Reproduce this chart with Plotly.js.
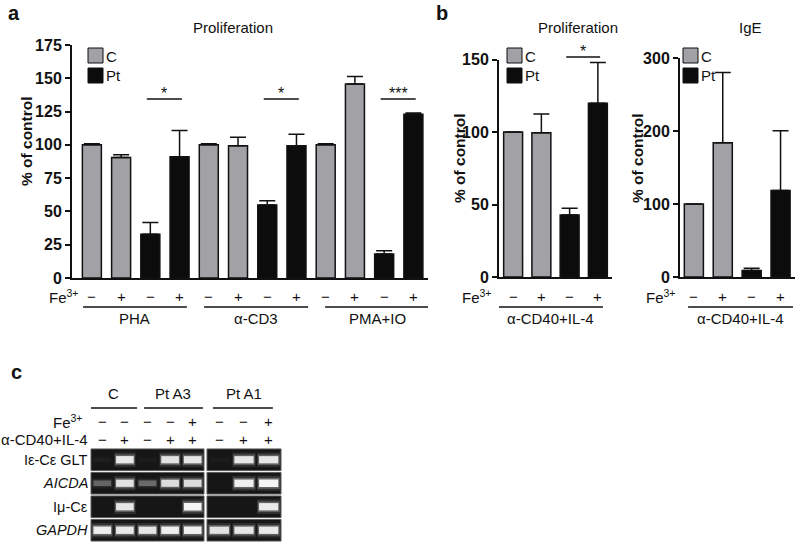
<!DOCTYPE html>
<html><head><meta charset="utf-8">
<script src="https://cdn.plot.ly/plotly-3.0.1.min.js"></script>
<style>html,body{margin:0;padding:0;background:#fff}#chart{width:800px;height:547px}</style>
</head><body><div id="chart"></div>
<script>
// ---------------- DATA ----------------
const seriesNames = ['C', 'Pt'];
const feSigns = ['\u2212', '+'];
const feLabel = 'Fe<sup>3+</sup>';
const yTitle = '% of control';
const panelTitles = ['Proliferation', 'Proliferation', 'IgE'];

// panel a : Proliferation (per stimulus: [Fe-, Fe+])
const groupsA = ['PHA', '\u03b1-CD3', 'PMA+IO'];
const aC = [100, 90.5, 100, 99.4, 100, 145.8];
const aCErr = [0.8, 2, 0.8, 6.3, 0.8, 5.5];
const aPt = [32.8, 91, 54.8, 99.4, 18, 123];
const aPtErr = [8.8, 19.7, 3.3, 8.6, 2.5, 1];
const aTicks = [0, 25, 50, 75, 100, 125, 150, 175];
const aSig = ['*', '*', '***'];

// panel b : alpha-CD40 + IL-4
const groupsB = ['\u03b1-CD40+IL-4'];
const bProlC = [100, 99.5];
const bProlCErr = [0, 13];
const bProlPt = [42.8, 119.8];
const bProlPtErr = [4.6, 28.2];
const bProlTicks = [0, 50, 100, 150];
const bProlSig = ['*'];
const bIgeC = [100, 184];
const bIgeCErr = [0, 96];
const bIgePt = [9, 118.5];
const bIgePtErr = [3, 82];
const bIgeTicks = [0, 100, 200, 300];

// panel c : RT-PCR gel (band intensity 0..1, rows x lanes)
const gelSamples = ['C', 'Pt A3', 'Pt A1'];
const gelRows = ['I\u03b5-C\u03b5 GLT', '<i>AICDA</i>', 'I\u03bc-C\u03b5', '<i>GAPDH</i>'];
const gelFe1 = ['\u2212', '\u2212', '\u2212', '\u2212', '+'];
const gelCD1 = ['\u2212', '+', '\u2212', '+', '+'];
const gelFe2 = ['\u2212', '\u2212', '+'];
const gelCD2 = ['\u2212', '+', '+'];
const gelStimLabel = '\u03b1-CD40+IL-4';
const gelBlock1 = [
  [0.03, 0.92, 0.02, 0.88, 0.90],
  [0.28, 0.88, 0.30, 0.85, 0.85],
  [0.00, 0.90, 0.00, 0.00, 1.00],
  [0.95, 0.92, 0.90, 0.95, 0.97]
];
const gelBlock2 = [
  [0.02, 0.90, 0.90],
  [0.00, 0.96, 1.00],
  [0.00, 0.00, 0.93],
  [0.88, 0.90, 0.92]
];

// ---------------- STYLE / LAYOUT ----------------
const FONT = 'Liberation Sans, Arial, Helvetica, sans-serif';
const INK = '#111111';
const GREY = '#a2a2a6';
const BLACK = '#0c0c0c';
const W = 800, H = 547;
const PX = v => v / W;
const PY = v => 1 - v / H;

const traces = [], shapes = [], annotations = [];
function ann(text, x, y, o, f) {
  annotations.push(Object.assign({text: text, x: x, y: y, xref: 'paper', yref: 'paper', showarrow: false,
    xanchor: 'center', yanchor: 'middle',
    font: Object.assign({family: FONT, size: 15, color: INK}, f || {})}, o || {}));
}

function errY(arr, w) {
  return {type: 'data', symmetric: false, array: arr, arrayminus: arr.map(() => 0),
    color: INK, thickness: 1.5, width: w, visible: true};
}

function barPanel(p) {
  const n = p.groups.length;
  const cx = [], tx = [];
  for (let g = 0; g < n; g++) for (let k = 0; k < 2; k++) { cx.push(4 * g + k); tx.push(4 * g + 2 + k); }
  traces.push({type: 'bar', name: seriesNames[0], x: cx, y: p.c, width: p.bw, xaxis: p.xa, yaxis: p.ya,
    marker: {color: GREY, line: {color: INK, width: 1.5}}, error_y: errY(p.cErr, 8), showlegend: false, hoverinfo: 'skip'});
  traces.push({type: 'bar', name: seriesNames[1], x: tx, y: p.pt, width: p.bw, xaxis: p.xa, yaxis: p.ya,
    marker: {color: BLACK, line: {color: INK, width: 1.5}}, error_y: errY(p.ptErr, 8), showlegend: false, hoverinfo: 'skip'});
  // Fe signs under each bar
  for (let g = 0; g < n; g++) for (let s = 0; s < 4; s++) {
    ann(feSigns[s % 2], 4 * g + s, PY(296), {xref: p.xa});
  }
  ann(feLabel, PX(p.feX), PY(296), {xanchor: 'right'});
  // group lines + labels
  for (let g = 0; g < n; g++) {
    const x0 = 4 * g + p.gl0 + p.gs0 * g, x1 = 4 * g + p.gl1 + p.gs1 * g;
    shapes.push({type: 'line', xref: p.xa, yref: 'paper', x0: x0, x1: x1, y0: PY(307), y1: PY(307), line: {color: INK, width: 1.5}});
    ann(p.groups[g], (x0 + x1) / 2, PY(318), {xref: p.xa});
  }
  // significance bars (drawn above the plot, in page position)
  (p.sig || []).forEach((s, g) => {
    if (!s) return;
    const x0 = 4 * g + 2 - 0.12, x1 = 4 * g + 3 + 0.08;
    shapes.push({type: 'line', xref: p.xa, yref: 'paper', x0: x0, x1: x1, y0: PY(p.sigPy), y1: PY(p.sigPy), line: {color: INK, width: 1.5}});
    ann(s, (x0 + x1) / 2, PY(p.sigPy - 5), {xref: p.xa}, {size: 16});
  });
  // custom legend
  [GREY, BLACK].forEach((col, i) => {
    const top = 48 + i * 20;
    shapes.push({type: 'rect', xref: 'paper', yref: 'paper', x0: PX(p.legX), x1: PX(p.legX + 15), y0: PY(top + 15), y1: PY(top),
      fillcolor: col, line: {color: INK, width: 1}});
    ann(seriesNames[i], PX(p.legX + 16), PY(top + 8), {xanchor: 'left'});
  });
  // title & y title
  ann(p.title, PX(p.titleX), PY(27));
  ann(yTitle, PX(p.ytX), PY(p.ytY), {textangle: -90}, {size: 15.5, weight: 'bold'});
}

barPanel({groups: groupsA, c: aC, cErr: aCErr, pt: aPt, ptErr: aPtErr, bw: 0.65, xa: 'x', ya: 'y',
  feX: 81, gl0: -0.3, gl1: 3.25, gs0: 0.14, gs1: 0.15, sig: aSig, sigPy: 99,
  legX: 88, title: panelTitles[0], titleX: 233, ytX: 27, ytY: 141});
barPanel({groups: groupsB, c: bProlC, cErr: bProlCErr, pt: bProlPt, ptErr: bProlPtErr, bw: 0.67, xa: 'x2', ya: 'y2',
  feX: 494, gl0: -0.5, gl1: 3.18, gs0: 0, gs1: 0, sig: bProlSig, sigPy: 57,
  legX: 507, title: panelTitles[1], titleX: 578, ytX: 459, ytY: 158});
barPanel({groups: groupsB, c: bIgeC, cErr: bIgeCErr, pt: bIgePt, ptErr: bIgePtErr, bw: 0.66, xa: 'x3', ya: 'y3',
  feX: 678, gl0: -0.2, gl1: 3.43, gs0: 0, gs1: 0, sig: [],
  legX: 683, title: panelTitles[2], titleX: 750, ytX: 637, ytY: 158});

// panel letters
ann('a', PX(6), PY(13), {xanchor: 'left'}, {size: 20, weight: 'bold'});
ann('b', PX(434), PY(13), {xanchor: 'left'}, {size: 20, weight: 'bold'});
ann('c', PX(9), PY(372), {xanchor: 'left'}, {size: 20, weight: 'bold'});

// ---------------- GEL ----------------
function gelBlock(block, xa, ya) {
  const layers = [
    {tk: 2.0, w: 0.95, a: 0.18, c: '170,170,170'},
    {tk: 1.45, w: 0.88, a: 0.35, c: '205,205,205'},
    {tk: 1.0, w: 0.78, a: 1.0, c: '245,245,245'}
  ];
  layers.forEach(L => {
    const xs = [], base = [], th = [], col = [];
    block.forEach((row, r) => row.forEach((v, l) => {
      const t = (0.2 + 0.12 * v) * L.tk;
      xs.push(l); base.push(r - t / 2); th.push(t);
      col.push('rgba(' + L.c + ',' + (L.a * v).toFixed(3) + ')');
    }));
    traces.push({type: 'bar', x: xs, y: th, base: base, width: L.w, xaxis: xa, yaxis: ya,
      marker: {color: col, line: {width: 0}}, showlegend: false, hoverinfo: 'skip'});
  });
  block.forEach((row, r) => {
    shapes.push({type: 'rect', xref: xa + ' domain', yref: ya, x0: 0, x1: 1, y0: r - 0.46, y1: r + 0.46,
      fillcolor: '#161616', line: {color: '#5a5a5a', width: 1}, layer: 'below'});
  });
}
gelBlock(gelBlock1, 'x4', 'y4');
gelBlock(gelBlock2, 'x5', 'y5');

gelRows.forEach((t, r) => ann(t, PX(90), r, {xanchor: 'right', yref: 'y4'}, {size: 14.5}));
gelFe1.forEach((s, l) => ann(s, l, PY(421), {xref: 'x4'}));
gelCD1.forEach((s, l) => ann(s, l, PY(439), {xref: 'x4'}));
gelFe2.forEach((s, l) => ann(s, l, PY(421), {xref: 'x5'}));
gelCD2.forEach((s, l) => ann(s, l, PY(439), {xref: 'x5'}));
ann(feLabel, PX(85), PY(421), {xanchor: 'right'});
ann(gelStimLabel, PX(90), PY(439), {xanchor: 'right'});
// sample headers: [axis, first lane, last lane, line start, line end]
const hdr = [['x4', 0, 1, -0.58, 1.54], ['x4', 2, 4, 1.85, 4.45], ['x5', 0, 2, -0.26, 2.17]];
hdr.forEach((h, i) => {
  shapes.push({type: 'line', xref: h[0], yref: 'paper', x0: h[3], x1: h[4], y0: PY(408), y1: PY(408), line: {color: INK, width: 1.5}});
  ann(gelSamples[i], (h[1] + h[2]) / 2 + (i === 1 ? 0.15 : 0), PY(393), {xref: h[0]});
});

// ---------------- AXES ----------------
const baseX = {showgrid: false, zeroline: false, showline: true, linewidth: 2, linecolor: INK, ticks: '',
  showticklabels: false, fixedrange: true};
const baseY = {showgrid: false, zeroline: false, showline: true, linewidth: 2, linecolor: INK, ticks: 'outside',
  ticklen: 5, tickwidth: 2, tickcolor: INK, fixedrange: true,
  tickfont: {family: FONT, size: 16, color: INK, weight: 'bold'}};
const gelAx = {visible: false, fixedrange: true};

const layout = {
  width: W, height: H, autosize: false, margin: {l: 0, r: 0, t: 0, b: 0, pad: 0},
  paper_bgcolor: '#ffffff', plot_bgcolor: 'rgba(0,0,0,0)', barmode: 'overlay', hovermode: false,
  font: {family: FONT, color: INK},
  xaxis: Object.assign({}, baseX, {domain: [PX(72), PX(428)], range: [-0.68, 11.5], anchor: 'y'}),
  yaxis: Object.assign({}, baseY, {domain: [PY(278), PY(45)], range: [0, 175], tickvals: aTicks, anchor: 'x'}),
  xaxis2: Object.assign({}, baseX, {domain: [PX(499), PX(612)], range: [-0.5, 3.5], anchor: 'y2'}),
  yaxis2: Object.assign({}, baseY, {domain: [PY(277), PY(59.5)], range: [0, 150], tickvals: bProlTicks, anchor: 'x2'}),
  xaxis3: Object.assign({}, baseX, {domain: [PX(680), PX(795)], range: [-0.48, 3.5], anchor: 'y3'}),
  yaxis3: Object.assign({}, baseY, {domain: [PY(277), PY(58)], range: [0, 300], tickvals: bIgeTicks, anchor: 'x3'}),
  xaxis4: Object.assign({}, gelAx, {domain: [PX(91), PX(204)], range: [-0.5, 4.5], anchor: 'y4'}),
  yaxis4: Object.assign({}, gelAx, {domain: [PY(542), PY(448)], range: [3.5, -0.5], anchor: 'x4'}),
  xaxis5: Object.assign({}, gelAx, {domain: [PX(207), PX(281)], range: [-0.5, 2.5], anchor: 'y5'}),
  yaxis5: Object.assign({}, gelAx, {domain: [PY(542), PY(448)], range: [3.5, -0.5], anchor: 'x5'}),
  shapes: shapes, annotations: annotations
};

Plotly.newPlot('chart', traces, layout, {displayModeBar: false, staticPlot: true});
</script></body></html>
